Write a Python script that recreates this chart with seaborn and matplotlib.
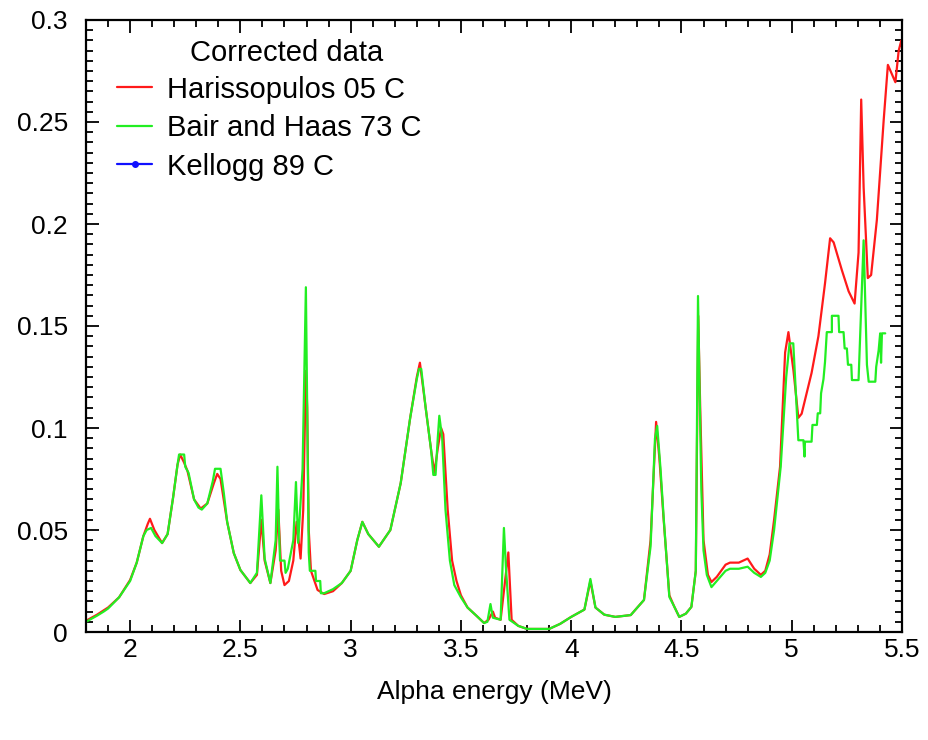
import numpy as np
import pandas as pd
import seaborn as sns
import matplotlib
matplotlib.use('Agg')
import matplotlib.pyplot as plt
from matplotlib.ticker import MultipleLocator, FuncFormatter

# Harissopulos 05 C (red)
harissopulos_e = [1.80, 1.85, 1.90, 1.95, 2.00, 2.03, 2.06, 2.08, 2.09, 2.11, 2.145, 2.17, 2.195,
                  2.215, 2.227, 2.245, 2.26, 2.29, 2.32, 2.35, 2.38, 2.395, 2.41, 2.44, 2.47, 2.50,
                  2.545, 2.575, 2.595, 2.61, 2.636, 2.66, 2.672, 2.685, 2.70, 2.72, 2.74, 2.755,
                  2.773, 2.785, 2.797, 2.803, 2.81, 2.82, 2.85, 2.88, 2.92, 2.96, 3.00, 3.03, 3.053,
                  3.08, 3.128, 3.18, 3.227, 3.27, 3.30, 3.314, 3.34, 3.365, 3.38, 3.395, 3.41, 3.42,
                  3.44, 3.46, 3.48, 3.50, 3.53, 3.57, 3.605, 3.625, 3.645, 3.655, 3.68, 3.70, 3.715,
                  3.73, 3.76, 3.80, 3.90, 3.95, 4.00, 4.06, 4.087, 4.11, 4.15, 4.20, 4.27, 4.33,
                  4.36, 4.385, 4.40, 4.418, 4.445, 4.468, 4.49, 4.52, 4.545, 4.565, 4.576, 4.585,
                  4.60, 4.62, 4.636, 4.66, 4.70, 4.72, 4.76, 4.80, 4.83, 4.86, 4.88, 4.90, 4.92,
                  4.947, 4.97, 4.985, 5.008, 5.03, 5.045, 5.09, 5.121, 5.151, 5.174, 5.19, 5.227,
                  5.258, 5.285, 5.303, 5.315, 5.326, 5.345, 5.36, 5.386, 5.417, 5.436, 5.47, 5.485,
                  5.497, 5.50]
harissopulos_y = [0.0055, 0.0085, 0.012, 0.017, 0.0255, 0.034, 0.047, 0.053, 0.0555, 0.050, 0.0436,
                  0.048, 0.066, 0.082, 0.087, 0.083, 0.079, 0.065, 0.0605, 0.063, 0.073, 0.0775,
                  0.075, 0.054, 0.0387, 0.0304, 0.024, 0.028, 0.055, 0.035, 0.024, 0.040, 0.060,
                  0.030, 0.023, 0.025, 0.035, 0.054, 0.036, 0.06, 0.128, 0.11, 0.05, 0.03, 0.0206,
                  0.0186, 0.020, 0.024, 0.030, 0.045, 0.054, 0.048, 0.0418, 0.050, 0.073, 0.105,
                  0.125, 0.132, 0.110, 0.089, 0.078, 0.090, 0.100, 0.097, 0.060, 0.035, 0.025,
                  0.018, 0.012, 0.008, 0.0044, 0.006, 0.010, 0.007, 0.006, 0.025, 0.039, 0.006,
                  0.003, 0.0015, 0.0015, 0.004, 0.0074, 0.011, 0.025, 0.012, 0.0085, 0.0074,
                  0.0083, 0.0157, 0.045, 0.103, 0.085, 0.057, 0.018, 0.0123, 0.0074, 0.009,
                  0.0123, 0.030, 0.155, 0.110, 0.045, 0.028, 0.0245, 0.027, 0.033, 0.034, 0.034,
                  0.036, 0.031, 0.028, 0.030, 0.038, 0.055, 0.081, 0.137, 0.147, 0.128, 0.105,
                  0.107, 0.127, 0.145, 0.171, 0.193, 0.191, 0.1775, 0.167, 0.161, 0.186, 0.261,
                  0.218, 0.1735, 0.175, 0.202, 0.251, 0.278, 0.2695, 0.285, 0.290, 0.287]

# Bair and Haas 73 C (green)
bair_e = [1.80, 1.85, 1.88, 1.90, 1.95, 2.00, 2.03, 2.06, 2.075, 2.095, 2.115, 2.145, 2.17, 2.195,
          2.215, 2.222, 2.245, 2.25, 2.265, 2.29, 2.31, 2.325, 2.35, 2.375, 2.385, 2.41, 2.425,
          2.44, 2.47, 2.50, 2.545, 2.575, 2.595, 2.61, 2.636, 2.66, 2.668, 2.675, 2.68, 2.70,
          2.705, 2.715, 2.74, 2.752, 2.762, 2.782, 2.797, 2.803, 2.81, 2.815, 2.84, 2.843, 2.862,
          2.865, 2.88, 2.92, 2.96, 3.00, 3.03, 3.053, 3.08, 3.128, 3.18, 3.227, 3.27, 3.30, 3.31,
          3.32, 3.34, 3.365, 3.375, 3.385, 3.395, 3.402, 3.415, 3.43, 3.45, 3.47, 3.50, 3.53,
          3.57, 3.605, 3.62, 3.634, 3.645, 3.68, 3.695, 3.705, 3.72, 3.76, 3.80, 3.90, 3.95,
          4.00, 4.06, 4.087, 4.11, 4.15, 4.20, 4.27, 4.33, 4.36, 4.38, 4.39, 4.405, 4.42, 4.445,
          4.468, 4.49, 4.52, 4.545, 4.565, 4.575, 4.582, 4.59, 4.60, 4.615, 4.636, 4.66, 4.70,
          4.72, 4.76, 4.80, 4.83, 4.86, 4.88, 4.90, 4.92, 4.95, 4.975, 4.99, 5.007, 5.03, 5.053,
          5.058, 5.06, 5.09, 5.094, 5.114, 5.118, 5.129, 5.133, 5.144, 5.151, 5.159, 5.182,
          5.182, 5.212, 5.215, 5.235, 5.24, 5.25, 5.255, 5.27, 5.273, 5.303, 5.326, 5.341,
          5.349, 5.379, 5.383, 5.394, 5.401, 5.405, 5.409, 5.424]
bair_y = [0.005, 0.008, 0.010, 0.0115, 0.017, 0.025, 0.034, 0.047, 0.050, 0.051, 0.047, 0.0436,
          0.048, 0.066, 0.082, 0.087, 0.087, 0.081, 0.078, 0.065, 0.061, 0.060, 0.063, 0.074,
          0.080, 0.080, 0.068, 0.054, 0.0387, 0.0304, 0.024, 0.029, 0.067, 0.036, 0.024, 0.045,
          0.081, 0.050, 0.035, 0.035, 0.029, 0.031, 0.045, 0.0735, 0.0437, 0.080, 0.169, 0.11,
          0.039, 0.030, 0.030, 0.025, 0.025, 0.019, 0.019, 0.021, 0.024, 0.030, 0.045, 0.054,
          0.048, 0.0418, 0.050, 0.073, 0.105, 0.124, 0.129, 0.129, 0.110, 0.089, 0.077, 0.077,
          0.095, 0.106, 0.095, 0.060, 0.035, 0.023, 0.017, 0.012, 0.008, 0.0044, 0.005, 0.0137,
          0.007, 0.006, 0.051, 0.030, 0.006, 0.003, 0.0015, 0.0015, 0.004, 0.0074, 0.011,
          0.026, 0.012, 0.0085, 0.0074, 0.0083, 0.0157, 0.042, 0.095, 0.101, 0.080, 0.055,
          0.0172, 0.0123, 0.0074, 0.009, 0.0123, 0.030, 0.1647, 0.120, 0.070, 0.040, 0.028,
          0.022, 0.025, 0.030, 0.031, 0.031, 0.032, 0.029, 0.027, 0.029, 0.035, 0.050, 0.081,
          0.125, 0.1415, 0.1415, 0.094, 0.094, 0.086, 0.0933, 0.0933, 0.1015, 0.1015, 0.1072,
          0.1072, 0.117, 0.124, 0.1325, 0.147, 0.147, 0.155, 0.155, 0.147, 0.147, 0.139, 0.139,
          0.131, 0.131, 0.1235, 0.1235, 0.192, 0.131, 0.1227, 0.1227, 0.130, 0.138, 0.1464,
          0.132, 0.1464, 0.1464]

# Kellogg 89 C (blue) - no points inside the plotted range
kellogg_e = []
kellogg_y = []

sns.set_style('ticks')
plt.rcParams['font.family'] = ['Liberation Sans', 'DejaVu Sans']
plt.rcParams['font.size'] = 19
plt.rcParams['text.color'] = 'black'
plt.rcParams['axes.labelcolor'] = 'black'

fig = plt.figure(figsize=(9.29, 7.4), dpi=100)
ax = fig.add_axes([86 / 929, 108 / 740, 816 / 929, 612 / 740])

h_df = pd.DataFrame({'energy': harissopulos_e, 'yield': harissopulos_y})
b_df = pd.DataFrame({'energy': bair_e, 'yield': bair_y})

sns.lineplot(data=h_df, x='energy', y='yield', ax=ax, color='#ff1a1a', lw=1.6,
             sort=False, estimator=None, label='Harissopulos 05 C')
sns.lineplot(data=b_df, x='energy', y='yield', ax=ax, color='#22ee22', lw=1.6,
             sort=False, estimator=None, label='Bair and Haas 73 C')
ax.plot(kellogg_e, kellogg_y, color='#1010ff', lw=1.6, marker='o', markersize=4,
        label='Kellogg 89 C')

ax.set_xlim(1.8, 5.5)
ax.set_ylim(0, 0.3)
ax.xaxis.set_major_locator(MultipleLocator(0.5))
ax.xaxis.set_minor_locator(MultipleLocator(0.1))
ax.yaxis.set_major_locator(MultipleLocator(0.05))
ax.yaxis.set_minor_locator(MultipleLocator(0.005))
fmt = FuncFormatter(lambda v, p: '%g' % round(v, 3))
ax.xaxis.set_major_formatter(fmt)
ax.yaxis.set_major_formatter(fmt)
ax.tick_params(which='both', direction='in', top=True, right=True, width=1.3,
               colors='black', labelcolor='black')
ax.tick_params(which='major', length=9, labelsize=19)
ax.tick_params(which='minor', length=5)
ax.tick_params(axis='x', which='major', pad=4)
ax.tick_params(axis='y', which='major', pad=13)
for s in ax.spines.values():
    s.set_linewidth(1.6)
    s.set_color('black')

ax.set_xlabel('Alpha energy (MeV)', fontsize=19, labelpad=13)
ax.set_ylabel('')

leg = ax.legend(loc='upper left', bbox_to_anchor=(0.038, 0.909),
                frameon=False, fontsize=21, borderpad=0,
                borderaxespad=0, handlelength=1.2, handletextpad=0.5,
                labelspacing=0.36, numpoints=1)
ax.text(0.246, 0.946, 'Corrected data', transform=ax.transAxes, fontsize=21,
        ha='center', va='center')

fig.savefig('out.png', dpi=100, facecolor='white')
